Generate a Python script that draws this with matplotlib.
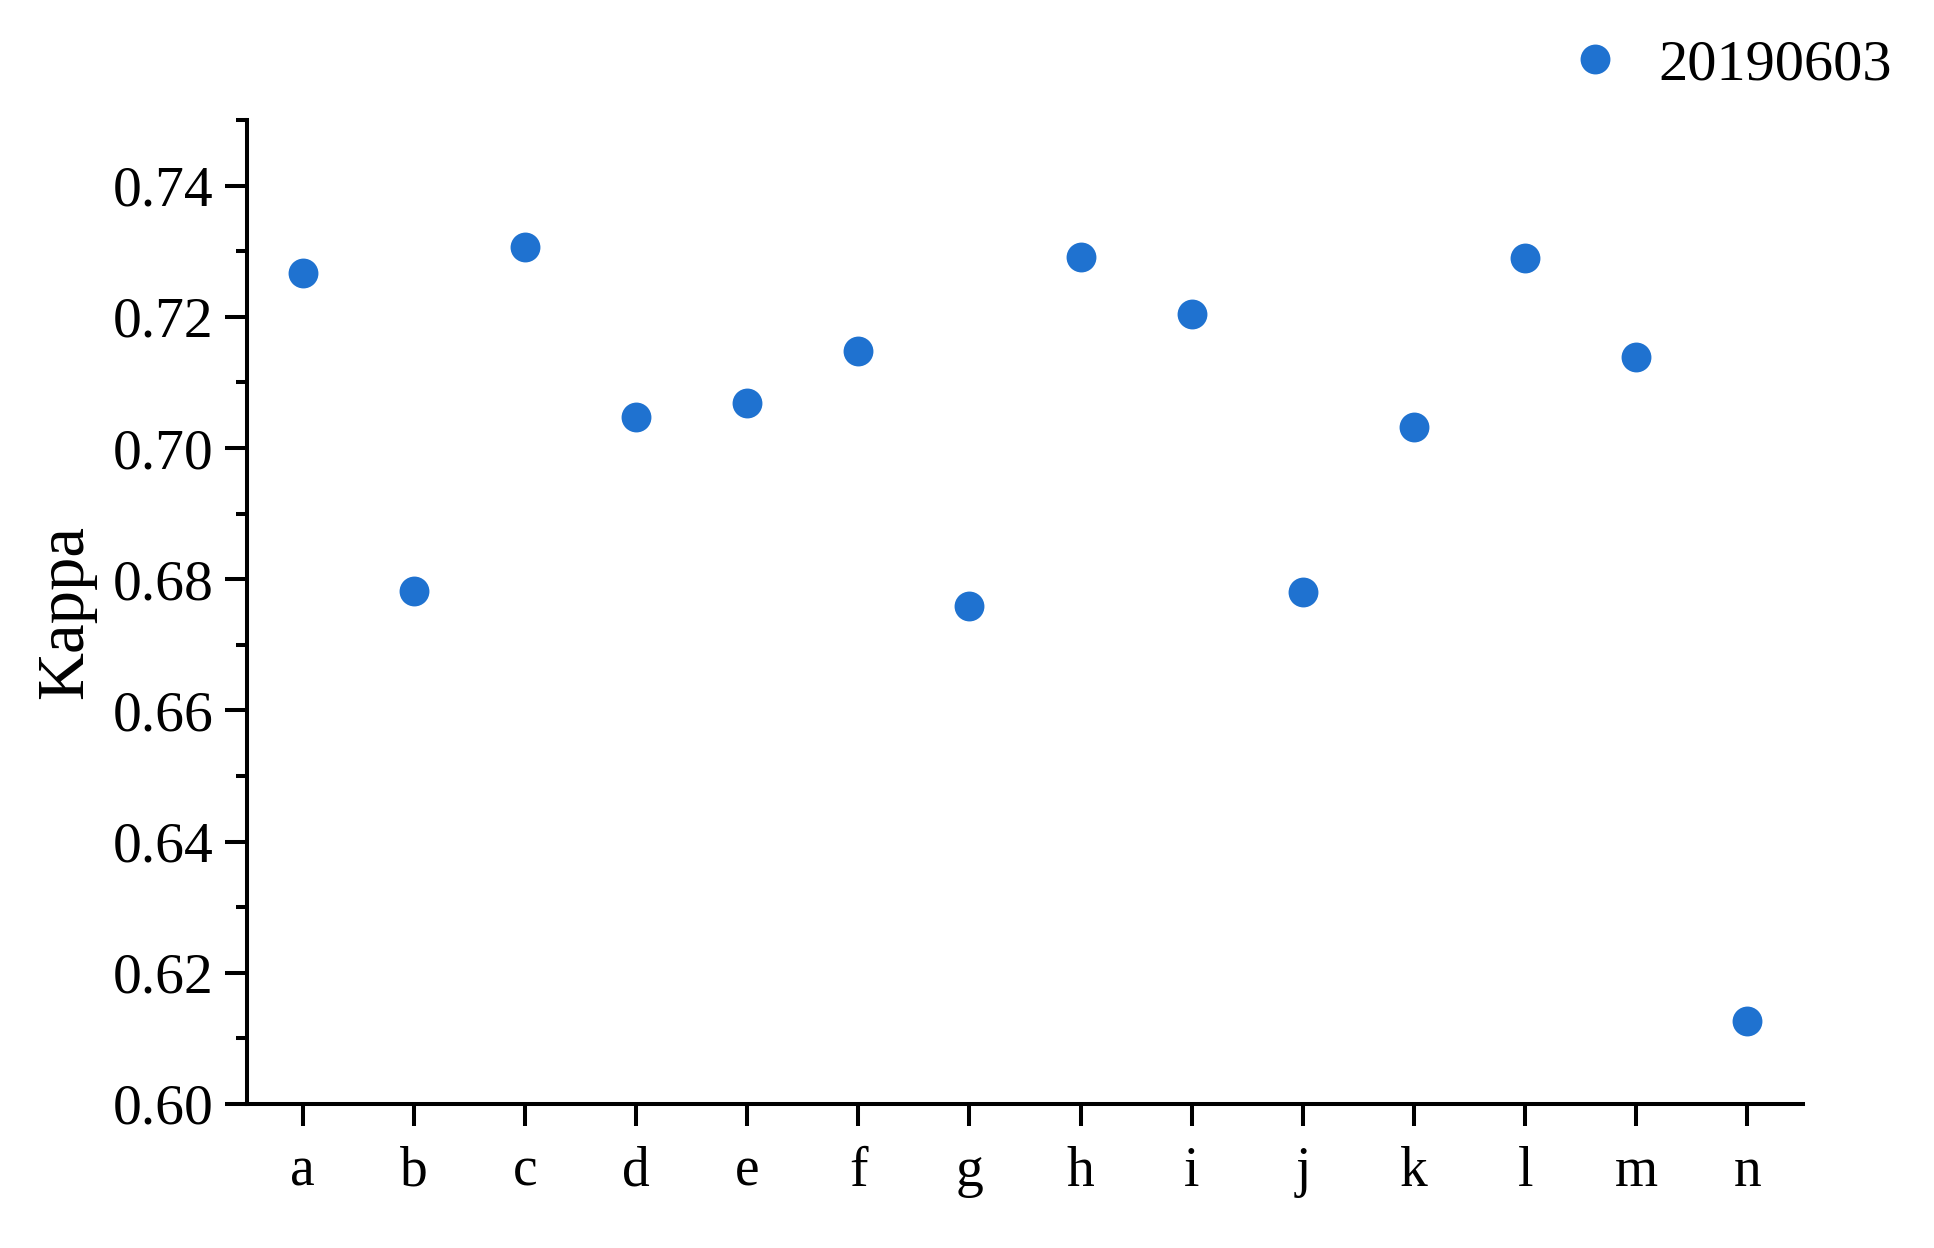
import matplotlib
matplotlib.use("Agg")
import matplotlib.pyplot as plt
from matplotlib.ticker import MultipleLocator, FormatStrFormatter

plt.rcParams['font.family'] = ['Liberation Serif', 'DejaVu Serif']

labels = ['a', 'b', 'c', 'd', 'e', 'f', 'g', 'h', 'i', 'j', 'k', 'l', 'm', 'n']
kappa = [0.7267, 0.6782, 0.7306, 0.7047, 0.7069, 0.7148, 0.6759,
         0.7291, 0.7205, 0.6780, 0.7032, 0.7289, 0.7139, 0.6126]
series_name = '20190603'

fig = plt.figure(figsize=(19.34, 12.48), dpi=100)
ax = fig.add_axes([0.1277, 0.1154, 0.8046, 0.7884])

xs = list(range(len(labels)))
ax.plot(xs, kappa, linestyle='none', marker='o', markersize=21.5,
        color='#1f72d0', markeredgewidth=0, label=series_name)

ax.set_xlim(-0.5, 13.5)
ax.set_ylim(0.60, 0.75)
ax.set_xticks(xs)
ax.set_xticklabels(labels)
ax.yaxis.set_major_locator(MultipleLocator(0.02))
ax.yaxis.set_minor_locator(MultipleLocator(0.01))
ax.yaxis.set_major_formatter(FormatStrFormatter('%.2f'))

for s in ['top', 'right']:
    ax.spines[s].set_visible(False)
for s in ['left', 'bottom']:
    ax.spines[s].set_linewidth(2.9)

ax.tick_params(axis='y', which='major', direction='out', length=16, width=2.9,
               labelsize=41.5, pad=8)
ax.tick_params(axis='y', which='minor', direction='out', length=8, width=2.9)
ax.tick_params(axis='x', which='major', direction='out', length=16, width=2.9,
               labelsize=40, pad=14)

ax.set_ylabel('Kappa', fontsize=48, labelpad=12)

ax.legend(loc='center right', bbox_to_anchor=(0.978, 0.948), bbox_transform=fig.transFigure,
          frameon=False, fontsize=42, handletextpad=0.48, handlelength=1.2,
          borderaxespad=0, borderpad=0)

fig.savefig('out.png', dpi=100)
